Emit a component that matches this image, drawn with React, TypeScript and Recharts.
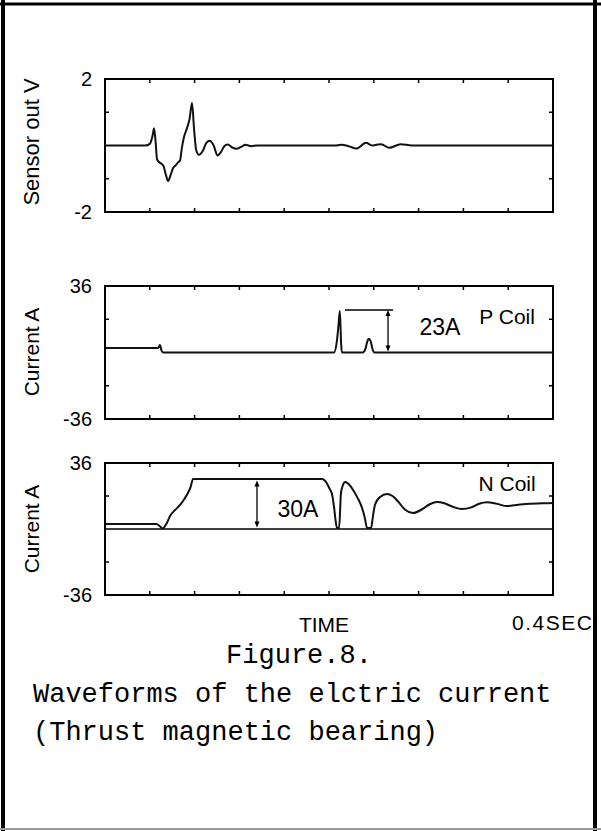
import React from 'react';
import { LineChart, Line, XAxis, YAxis, ReferenceArea, ReferenceLine, ReferenceDot, Label } from 'recharts';

// ---- Data (time in seconds) ----
const sensorTimes = [
  0, 0.036, 0.04, 0.0425, 0.0438, 0.0452, 0.0465, 0.049, 0.052, 0.0545, 0.0563, 0.0585, 0.0605, 0.063,
  0.0655, 0.067, 0.0685, 0.0705, 0.073, 0.0755, 0.0777, 0.0795, 0.0815, 0.084, 0.0875, 0.0905, 0.0935,
  0.097, 0.1005, 0.1035, 0.1065, 0.1095, 0.1135, 0.1175, 0.1215, 0.1255, 0.1305, 0.136, 0.205, 0.211,
  0.2175, 0.2245, 0.233, 0.2385, 0.2434, 0.2466, 0.2537, 0.264, 0.274, 0.4,
];
const sensorVolts = [
  0, 0, 0.05, 0.3, 0.52, 0.1, -0.42, -0.52, -0.6, -0.9, -1.07, -0.9, -0.7, -0.6,
  -0.5, -0.45, -0.1, 0.25, 0.5, 0.8, 1.28, 0.5, -0.15, -0.28, -0.15, 0.08, 0.14,
  0.0, -0.3, -0.2, -0.02, 0.03, -0.06, -0.1, -0.04, 0.02, -0.02, 0, 0, 0.02,
  -0.02, -0.09, 0.08, 0.0, 0.03, 0.04, -0.07, 0.04, 0, 0,
];

const pCoilTimes = [
  0, 0.0475, 0.049, 0.0505, 0.052, 0.2045, 0.207, 0.2085, 0.2097, 0.2108, 0.2115,
  0.23, 0.2325, 0.2345, 0.2357, 0.2372, 0.239, 0.2405, 0.4,
];
const pCoilAmps = [
  2.5, 2.5, 4, 1, 0, 0, 6, 15, 22.5, 5, 0,
  0, 2, 6.5, 7.5, 6, 1.5, 0, 0,
];

const nCoilTimes = [
  0, 0.046, 0.049, 0.0515, 0.055, 0.058, 0.062, 0.067, 0.071, 0.074, 0.0765, 0.0786,
  0.194, 0.1975, 0.2005, 0.2027, 0.2045, 0.2058, 0.2072, 0.209, 0.2107, 0.2125, 0.2143,
  0.2175, 0.2215, 0.2255, 0.2295, 0.232, 0.234, 0.2375, 0.2395, 0.241, 0.2456, 0.2518,
  0.2567, 0.2617, 0.268, 0.275, 0.2825, 0.29, 0.2965, 0.303, 0.311, 0.3188, 0.327, 0.334,
  0.341, 0.35, 0.359, 0.369, 0.3795, 0.39, 0.4,
];
const nCoilAmps = [
  2.7, 2.7, 1.5, 0.3, 3, 7, 10, 13.1, 16.5, 19.6, 23, 27.3,
  27.3, 25.5, 22, 19, 12, 5, 0.5, 0.5, 19.6, 24, 25.6,
  24.5, 21.3, 17, 11.5, 6, 0.5, 0.5, 8, 13.1, 17.5, 19.1,
  18, 15, 10.5, 8.7, 10.5, 13.5, 14.7, 14, 12, 10.9, 11.8, 13.8,
  14.6, 13.7, 12.5, 13.2, 13.8, 14, 14.2,
];

const timeTicks = [0.04, 0.08, 0.12, 0.16, 0.2, 0.24, 0.28, 0.32, 0.36];
const sensorTickLabels = [-2, 2];
const sensorMinorTicks = [-1, 1];
const currentTickLabels = [-36, 36];
const currentMinorTicks = [-18, 18];

const zip = (ts: number[], vs: number[]) => ts.map((t, i) => ({ t, v: vs[i] }));

const SANS = '"Liberation Sans", Arial, Helvetica, sans-serif';
const MONO = '"Liberation Mono", "Courier New", monospace';

function DoubleArrow(props: any) {
  const { x1, y1, y2 } = props;
  const top = Math.min(y1, y2);
  const bot = Math.max(y1, y2);
  const x = x1;
  return (
    <g>
      <line x1={x} y1={top + 2} x2={x} y2={bot - 2} stroke="#000" strokeWidth={1.3} />
      <polygon points={`${x},${top} ${x - 2.5},${top + 6} ${x + 2.5},${top + 6}`} fill="#000" />
      <polygon points={`${x},${bot} ${x - 2.5},${bot - 6} ${x + 2.5},${bot - 6}`} fill="#000" />
    </g>
  );
}

type PanelProps = {
  top: number;
  height: number;
  mt: number;
  mb: number;
  data: { t: number; v: number }[];
  yMin: number;
  yMax: number;
  yLabels: number[];
  yMinor: number[];
  children?: React.ReactNode;
};

function Panel({ top, height, mt, mb, data, yMin, yMax, yLabels, yMinor, children }: PanelProps) {
  const plotH = height - mt - mb;
  const tickY = ((yMax - yMin) * 4) / plotH;
  const tickX = (0.4 * 4) / 448;
  return (
    <div style={{ position: 'absolute', left: 0, top, width: 601, height }}>
      <LineChart width={601} height={height} data={data} margin={{ top: mt, right: 48, bottom: mb, left: 65 }}>
        <XAxis type="number" dataKey="t" domain={[0, 0.4]} hide />
        <YAxis
          type="number"
          domain={[yMin, yMax]}
          ticks={yLabels}
          interval={0}
          axisLine={false}
          tickLine={false}
          tickSize={0}
          tickMargin={13}
          width={40}
          tick={{ fontSize: 20, fill: '#000', fontFamily: SANS }}
          allowDataOverflow
        />
        <ReferenceArea x1={0} x2={0.4} y1={yMin} y2={yMax} fill="none" fillOpacity={0} stroke="#000" strokeWidth={2} ifOverflow="visible" />
        {timeTicks.map((t) => (
          <ReferenceLine key={'b' + t} segment={[{ x: t, y: yMin }, { x: t, y: yMin + tickY }]} stroke="#000" strokeWidth={1.5} ifOverflow="visible" />
        ))}
        {timeTicks.map((t) => (
          <ReferenceLine key={'t' + t} segment={[{ x: t, y: yMax }, { x: t, y: yMax - tickY }]} stroke="#000" strokeWidth={1.5} ifOverflow="visible" />
        ))}
        {yMinor.map((y) => (
          <ReferenceLine key={'l' + y} segment={[{ x: 0, y }, { x: tickX, y }]} stroke="#000" strokeWidth={1.5} ifOverflow="visible" />
        ))}
        {yMinor.map((y) => (
          <ReferenceLine key={'r' + y} segment={[{ x: 0.4, y }, { x: 0.4 - tickX, y }]} stroke="#000" strokeWidth={1.5} ifOverflow="visible" />
        ))}
        {children}
        <Line type="monotone" dataKey="v" stroke="#111" strokeWidth={2} dot={false} isAnimationActive={false} />
      </LineChart>
    </div>
  );
}

export default function App() {
  const sensorData = zip(sensorTimes, sensorVolts);
  const pData = zip(pCoilTimes, pCoilAmps);
  const nData = zip(nCoilTimes, nCoilAmps);
  return (
    <div style={{ position: 'absolute', left: 0, top: 0, width: 601, height: 831, background: '#fff', overflow: 'hidden' }}>
      <Panel top={60} height={170} mt={19} mb={18} data={sensorData} yMin={-2} yMax={2} yLabels={sensorTickLabels} yMinor={sensorMinorTicks} />
      <Panel top={270} height={160} mt={16} mb={11} data={pData} yMin={-36} yMax={36} yLabels={currentTickLabels} yMinor={currentMinorTicks}>
        <ReferenceLine segment={[{ x: 0.2143, y: 23 }, { x: 0.2572, y: 23 }]} stroke="#000" strokeWidth={1.5} ifOverflow="visible" />
        <ReferenceLine segment={[{ x: 0.2527, y: 23 }, { x: 0.2527, y: 0.5 }]} shape={DoubleArrow} ifOverflow="visible" />
        <ReferenceDot x={0.299} y={13.8} r={0} fill="none" stroke="none" ifOverflow="visible"
          label={<Label value="23A" position="center" fontSize={23} fill="#000" fontFamily={SANS} />} />
        <ReferenceDot x={0.359} y={19.7} r={0} fill="none" stroke="none" ifOverflow="visible"
          label={<Label value="P Coil" position="center" fontSize={21} fill="#000" fontFamily={SANS} />} />
      </Panel>
      <Panel top={450} height={160} mt={13} mb={15} data={nData} yMin={-36} yMax={36} yLabels={currentTickLabels} yMinor={currentMinorTicks}>
        <ReferenceLine y={0} stroke="#000" strokeWidth={1.5} ifOverflow="visible" />
        <ReferenceLine segment={[{ x: 0.1357, y: 26.5 }, { x: 0.1357, y: 0.8 }]} shape={DoubleArrow} ifOverflow="visible" />
        <ReferenceDot x={0.1723} y={10.9} r={0} fill="none" stroke="none" ifOverflow="visible"
          label={<Label value="30A" position="center" fontSize={23} fill="#000" fontFamily={SANS} />} />
        <ReferenceDot x={0.359} y={25} r={0} fill="none" stroke="none" ifOverflow="visible"
          label={<Label value="N Coil" position="center" fontSize={21} fill="#000" fontFamily={SANS} />} />
      </Panel>
      <svg width={601} height={831} style={{ position: 'absolute', left: 0, top: 0, pointerEvents: 'none' }}>
        <text x={31} y={142} transform="rotate(-90 31 142)" textAnchor="middle" dominantBaseline="central" fontSize={22} fontFamily={SANS} fill="#000">Sensor out V</text>
        <text x={31} y={352} transform="rotate(-90 31 352)" textAnchor="middle" dominantBaseline="central" fontSize={21} fontFamily={SANS} fill="#000">Current A</text>
        <text x={31} y={529} transform="rotate(-90 31 529)" textAnchor="middle" dominantBaseline="central" fontSize={21} fontFamily={SANS} fill="#000">Current A</text>
        <text x={324} y={624} textAnchor="middle" dominantBaseline="central" fontSize={21} fontFamily={SANS} fill="#000">TIME</text>
        <text x={512} y={622} textAnchor="start" dominantBaseline="central" fontSize={21} letterSpacing={1.5} fontFamily={SANS} fill="#000">0.4SEC</text>
        <text x={299} y={656} textAnchor="middle" dominantBaseline="central" fontSize={27} fontFamily={MONO} fill="#000">Figure.8.</text>
        <text x={33} y={695} textAnchor="start" dominantBaseline="central" fontSize={27} fontFamily={MONO} fill="#000">Waveforms of the elctric current</text>
        <text x={33} y={733} textAnchor="start" dominantBaseline="central" fontSize={27} fontFamily={MONO} fill="#000">(Thrust magnetic bearing)</text>
        <line x1={3} y1={0} x2={3} y2={831} stroke="#000" strokeWidth={4} />
        <line x1={0} y1={4} x2={601} y2={4} stroke="#000" strokeWidth={3} />
        <line x1={595} y1={0} x2={595} y2={831} stroke="#000" strokeWidth={4} />
        <line x1={0} y1={829} x2={601} y2={829} stroke="#999" strokeWidth={2} />
      </svg>
    </div>
  );
}
